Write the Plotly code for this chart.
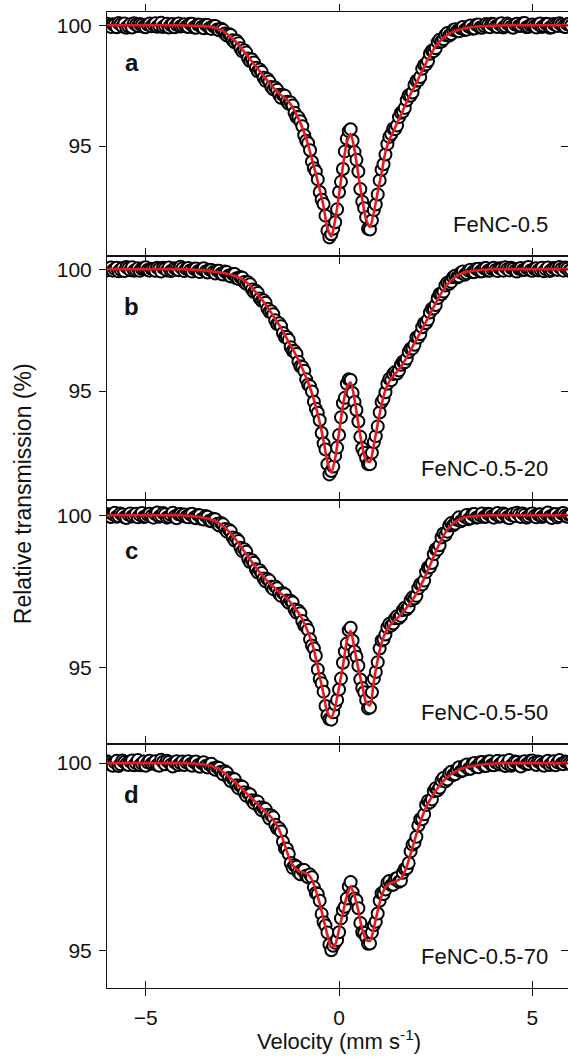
import plotly.graph_objects as go

# ---------------- data ----------------
# channel velocities of the measured points (mm/s)
velocity = [
    -6.00, -5.95, -5.90, -5.85, -5.80, -5.75, -5.70, -5.65, -5.60, -5.55, -5.50, -5.45, -5.40, -5.35, -5.30, -5.25, -5.20, -5.15, -5.10, -5.05,
    -5.00, -4.95, -4.90, -4.85, -4.80, -4.75, -4.70, -4.65, -4.60, -4.55, -4.50, -4.45, -4.40, -4.35, -4.30, -4.25, -4.20, -4.15, -4.10, -4.05,
    -4.00, -3.95, -3.90, -3.85, -3.80, -3.75, -3.70, -3.65, -3.60, -3.55, -3.50, -3.45, -3.40, -3.35, -3.30, -3.25, -3.20, -3.15, -3.10, -3.05,
    -3.00, -2.95, -2.90, -2.85, -2.80, -2.75, -2.70, -2.65, -2.60, -2.55, -2.50, -2.45, -2.40, -2.35, -2.30, -2.25, -2.20, -2.15, -2.10, -2.05,
    -2.00, -1.95, -1.90, -1.85, -1.80, -1.75, -1.70, -1.65, -1.60, -1.55, -1.50, -1.45, -1.40, -1.35, -1.30, -1.25, -1.20, -1.15, -1.10, -1.05,
    -1.00, -0.95, -0.90, -0.85, -0.80, -0.75, -0.70, -0.65, -0.60, -0.55, -0.50, -0.45, -0.40, -0.35, -0.30, -0.25, -0.20, -0.15, -0.10, -0.05,
    0.00, 0.05, 0.10, 0.15, 0.20, 0.25, 0.30, 0.35, 0.40, 0.45, 0.50, 0.55, 0.60, 0.65, 0.70, 0.75, 0.80, 0.85, 0.90, 0.95,
    1.00, 1.05, 1.10, 1.15, 1.20, 1.25, 1.30, 1.35, 1.40, 1.45, 1.50, 1.55, 1.60, 1.65, 1.70, 1.75, 1.80, 1.85, 1.90, 1.95,
    2.00, 2.05, 2.10, 2.15, 2.20, 2.25, 2.30, 2.35, 2.40, 2.45, 2.50, 2.55, 2.60, 2.65, 2.70, 2.75, 2.80, 2.85, 2.90, 2.95,
    3.00, 3.05, 3.10, 3.15, 3.20, 3.25, 3.30, 3.35, 3.40, 3.45, 3.50, 3.55, 3.60, 3.65, 3.70, 3.75, 3.80, 3.85, 3.90, 3.95,
    4.00, 4.05, 4.10, 4.15, 4.20, 4.25, 4.30, 4.35, 4.40, 4.45, 4.50, 4.55, 4.60, 4.65, 4.70, 4.75, 4.80, 4.85, 4.90, 4.95,
    5.00, 5.05, 5.10, 5.15, 5.20, 5.25, 5.30, 5.35, 5.40, 5.45, 5.50, 5.55, 5.60, 5.65, 5.70, 5.75, 5.80, 5.85, 5.90, 5.95, 6.00,
]

# velocities at which the fitted curves are tabulated (mm/s)
velocity_fit = [
    -6.0, -5.9, -5.8, -5.7, -5.6, -5.5, -5.4, -5.3, -5.2, -5.1,
    -5.0, -4.9, -4.8, -4.7, -4.6, -4.5, -4.4, -4.3, -4.2, -4.1,
    -4.0, -3.9, -3.8, -3.7, -3.6, -3.5, -3.4, -3.3, -3.2, -3.1,
    -3.0, -2.9, -2.8, -2.7, -2.6, -2.5, -2.4, -2.3, -2.2, -2.1,
    -2.0, -1.9, -1.8, -1.7, -1.6, -1.5, -1.4, -1.3, -1.2, -1.1,
    -1.0, -0.9, -0.8, -0.7, -0.6, -0.5, -0.4, -0.3, -0.2, -0.1,
    0.0, 0.1, 0.2, 0.3, 0.4, 0.5, 0.6, 0.7, 0.8, 0.9,
    1.0, 1.1, 1.2, 1.3, 1.4, 1.5, 1.6, 1.7, 1.8, 1.9,
    2.0, 2.1, 2.2, 2.3, 2.4, 2.5, 2.6, 2.7, 2.8, 2.9,
    3.0, 3.1, 3.2, 3.3, 3.4, 3.5, 3.6, 3.7, 3.8, 3.9,
    4.0, 4.1, 4.2, 4.3, 4.4, 4.5, 4.6, 4.7, 4.8, 4.9,
    5.0, 5.1, 5.2, 5.3, 5.4, 5.5, 5.6, 5.7, 5.8, 5.9, 6.0,
]

# ---- panel a : FeNC-0.5 ----
data_a = [
    100.06, 99.97, 99.93, 100.04, 100.02, 99.92, 100.09, 100.03, 99.95, 100.07, 99.90, 99.96, 100.04, 99.91, 100.08, 100.02, 99.97, 100.05, 100.01, 99.94,
    99.92, 100.03, 100.07, 99.96, 100.03, 100.08, 99.94, 99.99, 100.10, 99.93, 99.98, 100.06, 99.91, 100.01, 100.05, 99.92, 100.02, 100.07, 99.95, 99.98,
    100.04, 99.95, 99.93, 100.06, 100.06, 99.91, 99.90, 100.03, 100.02, 99.93, 99.88, 100.02, 100.01, 99.89, 99.85, 99.97, 99.97, 99.83, 99.79, 99.86,
    99.80, 99.66, 99.58, 99.64, 99.60, 99.38, 99.30, 99.36, 99.26, 99.05, 98.92, 98.97, 98.87, 98.63, 98.52, 98.58, 98.46, 98.24, 98.10, 98.17,
    98.07, 97.83, 97.70, 97.78, 97.67, 97.45, 97.35, 97.42, 97.33, 97.12, 97.00, 97.11, 97.08, 96.84, 96.75, 96.80, 96.68, 96.38, 96.20, 96.19,
    96.03, 95.82, 95.45, 95.22, 95.12, 94.83, 94.35, 94.08, 93.95, 93.62, 93.10, 92.78, 92.60, 92.12, 91.50, 91.22, 91.35, 91.58, 91.85, 92.38,
    93.10, 93.52, 94.05, 94.78, 95.30, 95.62, 95.70, 95.22, 94.75, 94.43, 93.95, 93.22, 92.70, 92.43, 92.05, 91.58, 91.55, 91.92, 92.35, 92.58,
    93.00, 93.58, 94.02, 94.25, 94.65, 95.08, 95.38, 95.50, 95.72, 95.70, 95.85, 96.20, 96.38, 96.42, 96.58, 96.90, 97.10, 97.08, 97.22, 97.53,
    97.70, 97.72, 97.86, 98.20, 98.36, 98.38, 98.52, 98.82, 98.95, 98.93, 99.05, 99.30, 99.40, 99.33, 99.42, 99.60, 99.68, 99.58, 99.64, 99.80,
    99.84, 99.76, 99.75, 99.88, 99.93, 99.81, 99.82, 99.95, 99.99, 99.86, 99.87, 100.02, 100.03, 99.91, 99.90, 99.97, 100.05, 100.00, 99.92, 100.06,
    100.04, 99.95, 99.93, 100.05, 100.08, 99.91, 99.96, 100.07, 100.02, 99.94, 99.90, 100.03, 100.06, 99.97, 99.98, 100.08, 100.09, 99.92, 99.94, 100.01,
    100.03, 99.96, 99.91, 100.04, 100.07, 99.93, 99.97, 100.06, 100.05, 99.90, 99.92, 100.05, 100.01, 99.97, 100.08, 100.02, 99.95, 99.93, 100.04, 100.06, 99.98,
]
fit_a = [
    100.0, 100.0, 100.0, 100.0, 100.0, 100.0, 100.0, 100.0, 100.0, 100.0,
    100.0, 100.0, 100.0, 100.0, 100.0, 100.0, 100.0, 100.0, 100.0, 100.0,
    99.99, 99.99, 99.98, 99.98, 99.97, 99.96, 99.95, 99.93, 99.90, 99.84,
    99.76, 99.65, 99.52, 99.37, 99.20, 99.00, 98.80, 98.60, 98.40, 98.20,
    98.00, 97.80, 97.60, 97.42, 97.25, 97.10, 96.98, 96.83, 96.60, 96.30,
    95.95, 95.55, 95.05, 94.45, 93.85, 93.20, 92.50, 91.60, 91.25, 91.95,
    93.00, 94.17, 95.15, 95.50, 94.85, 93.80, 92.80, 91.95, 91.65, 92.25,
    93.10, 93.90, 94.75, 95.25, 95.60, 95.95, 96.30, 96.65, 97.00, 97.30,
    97.62, 97.95, 98.28, 98.60, 98.88, 99.12, 99.32, 99.48, 99.60, 99.70,
    99.77, 99.82, 99.86, 99.89, 99.92, 99.94, 99.95, 99.96, 99.97, 99.98,
    99.98, 99.99, 99.99, 100.0, 100.0, 100.0, 100.0, 100.0, 100.0, 100.0,
    100.0, 100.0, 100.0, 100.0, 100.0, 100.0, 100.0, 100.0, 100.0, 100.0, 100.0,
]

# ---- panel b : FeNC-0.5-20 ----
data_b = [
    99.95, 100.03, 100.07, 99.94, 100.01, 100.06, 99.91, 99.98, 100.05, 99.92, 100.09, 100.04, 99.96, 100.08, 99.93, 99.97, 100.04, 99.93, 100.02, 100.05,
    100.08, 99.97, 99.94, 100.02, 99.99, 99.93, 100.06, 100.01, 99.90, 100.06, 100.03, 99.95, 100.07, 99.92, 99.95, 100.04, 100.00, 99.96, 100.10, 100.03,
    99.92, 100.01, 100.05, 99.95, 99.90, 100.02, 100.03, 99.91, 99.88, 100.00, 100.04, 99.90, 99.86, 99.98, 99.97, 99.88, 99.82, 99.94, 99.93, 99.81,
    99.78, 99.90, 99.88, 99.74, 99.70, 99.80, 99.80, 99.63, 99.60, 99.68, 99.65, 99.47, 99.40, 99.46, 99.38, 99.17, 99.06, 99.11, 99.02, 98.80,
    98.70, 98.72, 98.62, 98.38, 98.25, 98.27, 98.15, 97.90, 97.75, 97.78, 97.66, 97.38, 97.22, 97.22, 97.10, 96.80, 96.65, 96.63, 96.52, 96.20,
    96.02, 95.99, 95.83, 95.48, 95.27, 95.20, 94.98, 94.56, 94.27, 94.11, 93.80, 93.28, 92.85, 92.60, 92.00, 91.58, 91.72, 91.90, 92.35, 92.68,
    93.20, 93.92, 94.50, 94.72, 95.30, 95.48, 95.45, 94.92, 94.55, 94.22, 93.75, 93.12, 92.65, 92.47, 92.25, 92.00, 92.00, 92.47, 92.90, 93.15,
    93.55, 94.12, 94.55, 94.68, 94.95, 95.30, 95.50, 95.44, 95.70, 95.78, 95.72, 95.84, 96.08, 96.20, 96.18, 96.33, 96.60, 96.74, 96.75, 96.90,
    97.20, 97.20, 97.33, 97.62, 97.78, 97.79, 97.93, 98.22, 98.38, 98.39, 98.53, 98.82, 98.98, 98.97, 99.08, 99.33, 99.44, 99.40, 99.48, 99.67,
    99.73, 99.66, 99.70, 99.86, 99.90, 99.77, 99.83, 99.94, 99.98, 99.87, 99.88, 100.01, 100.02, 99.90, 99.91, 100.04, 100.05, 99.93, 99.94, 100.02,
    100.06, 99.97, 99.92, 100.04, 100.03, 99.94, 100.08, 100.00, 99.95, 100.06, 100.01, 99.93, 99.90, 100.02, 100.05, 99.96, 99.97, 100.05, 100.09, 99.95,
    99.93, 100.02, 100.04, 99.95, 100.00, 100.06, 99.91, 99.99, 100.07, 99.92, 99.96, 100.05, 100.03, 99.97, 100.09, 100.01, 99.94, 100.07, 100.02, 99.93, 99.97,
]
fit_b = [
    100.0, 100.0, 100.0, 100.0, 100.0, 100.0, 100.0, 100.0, 100.0, 100.0,
    100.0, 100.0, 100.0, 100.0, 100.0, 100.0, 100.0, 100.0, 100.0, 100.0,
    99.99, 99.99, 99.98, 99.97, 99.96, 99.95, 99.93, 99.91, 99.89, 99.87,
    99.84, 99.81, 99.77, 99.72, 99.66, 99.58, 99.47, 99.32, 99.14, 98.96,
    98.77, 98.55, 98.32, 98.08, 97.83, 97.58, 97.30, 97.01, 96.72, 96.43,
    96.10, 95.75, 95.35, 94.90, 94.35, 93.72, 92.95, 92.10, 91.65, 92.25,
    93.30, 94.40, 95.15, 95.35, 94.65, 93.65, 92.75, 92.15, 92.10, 92.80,
    93.65, 94.45, 95.05, 95.40, 95.62, 95.80, 96.00, 96.25, 96.53, 96.82,
    97.11, 97.40, 97.70, 98.00, 98.30, 98.60, 98.90, 99.15, 99.37, 99.54,
    99.67, 99.77, 99.84, 99.89, 99.92, 99.94, 99.96, 99.97, 99.98, 99.99,
    100.0, 100.0, 100.0, 100.0, 100.0, 100.0, 100.0, 100.0, 100.0, 100.0,
    100.0, 100.0, 100.0, 100.0, 100.0, 100.0, 100.0, 100.0, 100.0, 100.0, 100.0,
]

# ---- panel c : FeNC-0.5-50 ----
data_c = [
    100.04, 99.98, 99.94, 100.03, 100.08, 99.95, 99.97, 100.06, 100.02, 99.93, 99.91, 100.02, 100.06, 99.96, 100.00, 100.05, 99.93, 100.01, 100.07, 99.94,
    99.96, 100.02, 100.05, 99.97, 99.92, 100.04, 100.09, 99.95, 99.98, 100.07, 100.03, 99.92, 99.95, 100.01, 100.08, 99.96, 99.90, 100.03, 100.04, 99.98,
    100.02, 99.95, 99.93, 100.03, 100.05, 99.92, 99.90, 100.01, 100.00, 99.87, 99.86, 99.97, 99.95, 99.82, 99.80, 99.88, 99.87, 99.72, 99.66, 99.74,
    99.70, 99.55, 99.46, 99.52, 99.47, 99.27, 99.17, 99.23, 99.15, 98.93, 98.82, 98.88, 98.80, 98.57, 98.46, 98.52, 98.44, 98.22, 98.12, 98.19,
    98.10, 97.92, 97.83, 97.90, 97.85, 97.65, 97.57, 97.66, 97.60, 97.42, 97.35, 97.44, 97.40, 97.20, 97.12, 97.19, 97.13, 96.90, 96.80, 96.86,
    96.78, 96.52, 96.37, 96.36, 96.23, 95.92, 95.72, 95.62, 95.38, 94.93, 94.62, 94.48, 94.20, 93.73, 93.42, 93.30, 93.28, 93.52, 93.78, 93.93,
    94.27, 94.63, 95.15, 95.52, 95.78, 96.22, 96.30, 95.88, 95.52, 95.35, 95.05, 94.60, 94.32, 94.18, 93.93, 93.65, 93.68, 94.18, 94.63, 94.85,
    95.17, 95.62, 95.88, 95.92, 96.08, 96.31, 96.43, 96.37, 96.44, 96.61, 96.68, 96.62, 96.69, 96.88, 96.96, 96.91, 96.98, 97.20, 97.30, 97.26,
    97.35, 97.60, 97.73, 97.72, 97.85, 98.13, 98.28, 98.29, 98.43, 98.72, 98.88, 98.87, 99.01, 99.27, 99.40, 99.35, 99.46, 99.66, 99.74, 99.67,
    99.72, 99.85, 99.93, 99.80, 99.84, 99.95, 100.01, 99.87, 99.90, 100.03, 100.04, 99.92, 99.93, 100.00, 100.06, 99.94, 99.95, 100.05, 100.03, 99.96,
    99.92, 100.03, 100.07, 99.95, 99.97, 100.06, 100.02, 99.93, 99.90, 100.01, 100.05, 99.97, 100.08, 100.02, 99.94, 100.06, 100.01, 99.92, 99.96, 100.04,
    100.06, 99.97, 99.93, 100.02, 100.03, 99.94, 99.98, 100.05, 100.09, 99.96, 99.91, 100.03, 100.04, 99.93, 99.97, 100.06, 100.07, 99.99, 99.95, 100.01, 100.02,
]
fit_c = [
    100.0, 100.0, 100.0, 100.0, 100.0, 100.0, 100.0, 100.0, 100.0, 100.0,
    100.0, 100.0, 100.0, 100.0, 100.0, 100.0, 100.0, 100.0, 100.0, 100.0,
    99.99, 99.98, 99.97, 99.96, 99.94, 99.92, 99.89, 99.85, 99.80, 99.73,
    99.64, 99.53, 99.40, 99.25, 99.08, 98.90, 98.72, 98.54, 98.37, 98.20,
    98.04, 97.90, 97.77, 97.65, 97.53, 97.42, 97.32, 97.20, 97.05, 96.88,
    96.70, 96.45, 96.15, 95.80, 95.30, 94.70, 94.12, 93.50, 93.35, 93.70,
    94.35, 95.05, 95.85, 96.20, 95.60, 94.95, 94.40, 93.85, 93.75, 94.55,
    95.25, 95.80, 96.15, 96.35, 96.50, 96.60, 96.75, 96.88, 97.05, 97.22,
    97.42, 97.65, 97.92, 98.20, 98.50, 98.80, 99.08, 99.32, 99.52, 99.67,
    99.78, 99.86, 99.91, 99.94, 99.96, 99.97, 99.98, 99.99, 100.0, 100.0,
    100.0, 100.0, 100.0, 100.0, 100.0, 100.0, 100.0, 100.0, 100.0, 100.0,
    100.0, 100.0, 100.0, 100.0, 100.0, 100.0, 100.0, 100.0, 100.0, 100.0, 100.0,
]

# ---- panel d : FeNC-0.5-70 ----
data_d = [
    100.05, 100.01, 99.96, 99.93, 100.02, 100.06, 99.92, 99.97, 100.07, 100.03, 99.98, 99.95, 100.04, 100.07, 99.94, 100.00, 100.08, 99.94, 99.99, 100.04,
    99.93, 100.02, 100.06, 99.98, 100.01, 100.05, 99.95, 99.93, 100.09, 100.03, 99.97, 100.06, 100.03, 99.96, 99.91, 100.02, 100.05, 99.95, 100.00, 100.04,
    99.95, 100.02, 100.05, 99.96, 99.93, 100.03, 100.04, 99.94, 99.90, 100.00, 100.02, 99.92, 99.88, 99.96, 99.98, 99.86, 99.82, 99.89, 99.87, 99.77,
    99.70, 99.78, 99.74, 99.60, 99.52, 99.59, 99.57, 99.41, 99.33, 99.39, 99.37, 99.22, 99.13, 99.19, 99.16, 99.01, 98.93, 98.99, 98.97, 98.82,
    98.74, 98.80, 98.77, 98.62, 98.52, 98.60, 98.55, 98.35, 98.25, 98.26, 98.17, 97.90, 97.72, 97.71, 97.57, 97.33, 97.20, 97.27, 97.23, 97.08,
    97.03, 97.15, 97.14, 96.99, 96.95, 97.02, 96.95, 96.68, 96.53, 96.50, 96.32, 95.97, 95.75, 95.66, 95.47, 95.15, 95.00, 95.12, 95.20, 95.27,
    95.48, 95.85, 96.07, 96.16, 96.38, 96.70, 96.82, 96.55, 96.38, 96.33, 96.12, 95.73, 95.48, 95.46, 95.35, 95.17, 95.18, 95.47, 95.67, 95.76,
    95.98, 96.32, 96.52, 96.50, 96.62, 96.80, 96.85, 96.74, 96.75, 96.90, 96.93, 96.83, 96.86, 97.07, 97.17, 97.19, 97.33, 97.64, 97.82, 97.87,
    98.03, 98.33, 98.50, 98.50, 98.63, 98.88, 98.99, 98.95, 99.03, 99.25, 99.33, 99.27, 99.34, 99.53, 99.60, 99.51, 99.56, 99.72, 99.77, 99.68,
    99.70, 99.83, 99.89, 99.78, 99.80, 99.93, 99.96, 99.84, 99.85, 99.98, 100.00, 99.90, 99.89, 100.02, 100.03, 99.93, 99.92, 100.04, 100.05, 99.95,
    99.94, 100.02, 100.06, 99.96, 100.00, 100.05, 99.92, 99.99, 100.08, 99.93, 99.97, 100.04, 100.03, 99.95, 99.91, 100.03, 100.05, 99.97, 99.98, 100.06,
    100.07, 100.01, 99.95, 100.04, 100.02, 99.96, 99.93, 100.03, 100.06, 99.95, 100.00, 100.05, 99.94, 100.02, 100.08, 99.98, 99.97, 100.04, 100.03, 99.99, 99.96,
]
fit_d = [
    100.0, 100.0, 100.0, 100.0, 100.0, 100.0, 100.0, 100.0, 100.0, 100.0,
    100.0, 100.0, 100.0, 100.0, 100.0, 100.0, 100.0, 100.0, 100.0, 100.0,
    100.0, 99.99, 99.99, 99.98, 99.97, 99.96, 99.94, 99.92, 99.88, 99.83,
    99.76, 99.68, 99.59, 99.50, 99.40, 99.30, 99.20, 99.10, 99.00, 98.90,
    98.80, 98.70, 98.60, 98.48, 98.32, 98.10, 97.80, 97.50, 97.28, 97.16,
    97.10, 97.07, 97.02, 96.88, 96.60, 96.25, 95.82, 95.40, 95.08, 95.15,
    95.55, 96.00, 96.45, 96.70, 96.45, 96.05, 95.55, 95.28, 95.25, 95.60,
    96.05, 96.45, 96.68, 96.78, 96.82, 96.86, 96.92, 97.10, 97.40, 97.75,
    98.10, 98.42, 98.70, 98.92, 99.10, 99.26, 99.40, 99.52, 99.62, 99.70,
    99.77, 99.82, 99.86, 99.89, 99.91, 99.93, 99.95, 99.96, 99.97, 99.98,
    99.99, 99.99, 100.0, 100.0, 100.0, 100.0, 100.0, 100.0, 100.0, 100.0,
    100.0, 100.0, 100.0, 100.0, 100.0, 100.0, 100.0, 100.0, 100.0, 100.0, 100.0,
]

panel_letters = ["a", "b", "c", "d"]
sample_names = ["FeNC-0.5", "FeNC-0.5-20", "FeNC-0.5-50", "FeNC-0.5-70"]
x_tick_values = [-5, 0, 5]
y_tick_values = [95, 100]
x_title = "Velocity (mm s<sup>-1</sup>)"
y_title = "Relative transmission (%)"

# ---------------- styling / layout ----------------
data_sets = [data_a, data_b, data_c, data_d]
fit_sets = [fit_a, fit_b, fit_c, fit_d]

X_RANGE = [-6.0, 5.92]
Y_RANGES = [[90.45, 100.55], [90.53, 100.54], [92.48, 100.50], [93.99, 100.51]]

FONT = "Liberation Sans, Arial, sans-serif"
INK = "#111111"
RED = "rgb(228,28,32)"

fig = go.Figure()
layout = {}
annotations = []

for k in range(4):
    n = k + 1
    xs = "x" if n == 1 else f"x{n}"
    ys = "y" if n == 1 else f"y{n}"
    xkey = "xaxis" if n == 1 else f"xaxis{n}"
    ykey = "yaxis" if n == 1 else f"yaxis{n}"
    top = 1.0 - 0.25 * k

    fig.add_trace(go.Scatter(
        x=velocity, y=data_sets[k], mode="markers",
        marker=dict(symbol="circle", size=12, color="white",
                    line=dict(color="black", width=2.0)),
        xaxis=xs, yaxis=ys, showlegend=False, hoverinfo="skip"))
    fig.add_trace(go.Scatter(
        x=velocity_fit, y=fit_sets[k], mode="lines",
        line=dict(color=RED, width=2.6, shape="spline", smoothing=0.7),
        xaxis=xs, yaxis=ys, showlegend=False, hoverinfo="skip"))

    layout[xkey] = dict(
        domain=[0, 1], anchor=ys, range=X_RANGE, tickvals=x_tick_values,
        ticks="outside", ticklen=7, tickwidth=1, tickcolor=INK,
        showline=True, linecolor=INK, linewidth=1, mirror="ticks",
        showgrid=False, zeroline=False, showticklabels=(n == 4),
        ticklabelstandoff=4,
        tickfont=dict(family=FONT, size=21, color=INK))
    layout[ykey] = dict(
        domain=[top - 0.25, top], anchor=xs, range=Y_RANGES[k],
        tickvals=y_tick_values, ticks="outside", ticklen=7, tickwidth=1,
        tickcolor=INK, showline=True, linecolor=INK, linewidth=1,
        mirror=False, showgrid=False, zeroline=False,
        ticklabelstandoff=3,
        tickfont=dict(family=FONT, size=21, color=INK))
    # inward ticks on the right edge
    layout[f"yaxis{n + 4}"] = dict(
        overlaying=ys, side="right", anchor=xs, range=Y_RANGES[k],
        tickvals=y_tick_values, ticks="inside", ticklen=7, tickwidth=1,
        tickcolor=INK, showline=False, showticklabels=False,
        showgrid=False, zeroline=False)
    fig.add_trace(go.Scatter(x=[], y=[], xaxis=xs, yaxis=f"y{n + 4}",
                             showlegend=False, hoverinfo="skip"))

    dom = "x domain" if n == 1 else f"x{n} domain"
    ydom = "y domain" if n == 1 else f"y{n} domain"
    annotations.append(dict(
        text=f"<b>{panel_letters[k]}</b>", xref=dom, yref=ydom,
        x=0.054, y=0.795, xanchor="center", yanchor="middle",
        showarrow=False, font=dict(family=FONT, size=24, color=INK)))
    annotations.append(dict(
        text=sample_names[k], xref=dom, yref=ydom,
        x=0.961, y=0.131, xanchor="right", yanchor="middle",
        showarrow=False, font=dict(family=FONT, size=22, color=INK)))

# inward ticks on the bottom axis (crossing tick marks)
layout["xaxis5"] = dict(
    overlaying="x4", anchor="y4", side="bottom", range=X_RANGE,
    tickvals=x_tick_values, ticks="inside", ticklen=7, tickwidth=1,
    tickcolor=INK, showline=False, showticklabels=False,
    showgrid=False, zeroline=False)
fig.add_trace(go.Scatter(x=[], y=[], xaxis="x5", yaxis="y4",
                         showlegend=False, hoverinfo="skip"))

annotations.append(dict(
    text=x_title, xref="paper", yref="paper", x=6.0 / 11.92, y=-0.053,
    xanchor="center", yanchor="middle", showarrow=False,
    font=dict(family=FONT, size=22, color=INK)))
annotations.append(dict(
    text=y_title, xref="paper", yref="paper", x=-0.1822, y=0.506,
    xanchor="center", yanchor="middle", textangle=-90, showarrow=False,
    font=dict(family=FONT, size=23, color=INK)))

fig.update_layout(
    width=568, height=1059,
    margin=dict(l=107, r=0, t=12, b=71, pad=0),
    paper_bgcolor="white", plot_bgcolor="white",
    showlegend=False, annotations=annotations,
    font=dict(family=FONT, color=INK),
    **layout)

fig.write_html("out.html", config={"displayModeBar": False})
